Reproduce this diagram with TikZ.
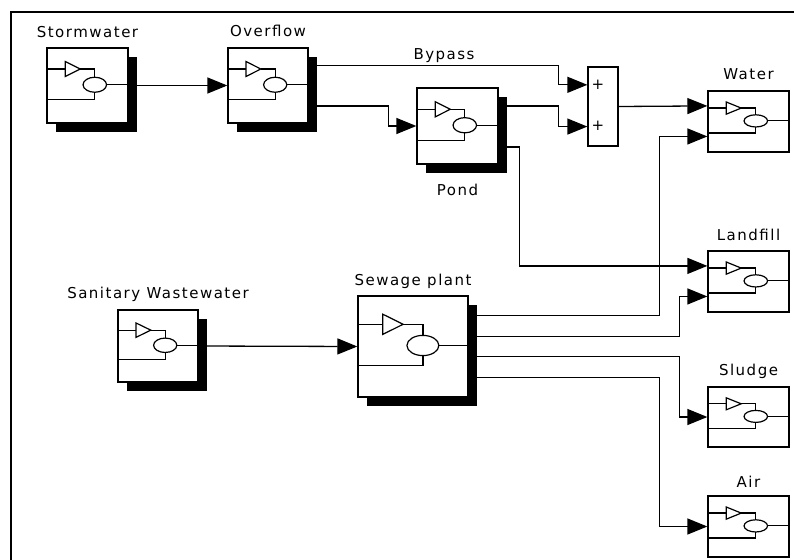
\documentclass[tikz,border=0pt]{standalone}
\usepackage{fontspec}
\setmainfont{DejaVu Sans}[LetterSpace=10]
\usetikzlibrary{arrows.meta,calc}
\pgfdeclarelayer{bg}
\pgfdeclarelayer{shade}
\pgfsetlayers{bg,shade,main}
\tikzset{
  blockbox/.style={draw, fill=white, rectangle, inner sep=0pt, line width=1.3pt},
  conn/.style={line width=1.3pt},
  arr/.style={conn, -{Triangle[length=20pt,width=16pt]}},
  lbl/.style={anchor=base, inner sep=0pt, font=\fontsize{15}{17}\selectfont},
  plus/.style={inner sep=0pt, font=\fontsize{15}{17}\selectfont},
  icon/.style={line width=1.2pt},
  frame/.style={line width=1.6pt}
}
% #1 name, #2 x1, #3 y1, #4 x2, #5 y2, #6 shadow (1/0), #7 draw icon (1/0)
\newcommand\blkdraw[7]{%
  \pgfmathsetmacro\blkW{#4-#2}\pgfmathsetmacro\blkH{#5-#3}%
  \pgfmathsetmacro\blkCX{(#2+#4)/2}\pgfmathsetmacro\blkCY{(#3+#5)/2}%
  \ifnum#6=1
    \begin{pgfonlayer}{shade}\fill[black] (#2+9,#3+9) rectangle (#4+9,#5+9);\end{pgfonlayer}%
  \fi
  \node[blockbox, minimum width=\blkW pt, minimum height=\blkH pt] (#1) at (\blkCX,\blkCY) {};%
  \ifnum#7=1
    \pgfmathsetmacro\blkYa{#3+0.28*\blkH}%
    \pgfmathsetmacro\blkYb{#3+0.49*\blkH}%
    \pgfmathsetmacro\blkYc{#3+0.69*\blkH}%
    \pgfmathsetmacro\blkXa{#2+0.225*\blkW}%
    \pgfmathsetmacro\blkXb{#2+0.41*\blkW}%
    \pgfmathsetmacro\blkXc{#2+0.59*\blkW}%
    \pgfmathsetmacro\blkRx{0.145*\blkW}%
    \pgfmathsetmacro\blkRy{0.1*\blkH}%
    \pgfmathsetmacro\blkT{0.1*\blkH}%
    \draw[icon] (#2,\blkYa) -- (\blkXa,\blkYa);
    \draw[icon] (\blkXa,\blkYa-\blkT) -- (\blkXb,\blkYa) -- (\blkXa,\blkYa+\blkT) -- cycle;
    \draw[icon] (\blkXb,\blkYa) -- (\blkXc,\blkYa) -- (\blkXc,\blkYb-\blkRy);
    \draw[icon] (\blkXc,\blkYb) ellipse [x radius=\blkRx pt, y radius=\blkRy pt];
    \draw[icon] (\blkXc+\blkRx,\blkYb) -- (#4,\blkYb);
    \draw[icon] (\blkXc,\blkYb+\blkRy) -- (\blkXc,\blkYc) -- (#2,\blkYc);
  \fi
}
\begin{document}
\begin{tikzpicture}[x=1pt,y=-1pt]
\useasboundingbox (0,0) rectangle (794,559);
\begin{pgfonlayer}{bg}
\fill[white] (0,0) rectangle (794,559);
\end{pgfonlayer}
\draw[frame] (11,570) -- (11,12) -- (805,12);

% blocks
\blkdraw{storm}{47}{48}{128}{123}{1}{1}
\blkdraw{overflow}{228}{48}{308}{123}{1}{1}
\blkdraw{pond}{417}{88}{498}{164}{1}{1}
\blkdraw{sum}{588}{67}{618}{146}{0}{0}
\blkdraw{water}{708}{91}{789}{152}{0}{1}
\blkdraw{landfill}{708}{251}{789}{312}{0}{1}
\blkdraw{sludge}{708}{387}{789}{447}{0}{1}
\blkdraw{air}{708}{496}{789}{557}{0}{1}
\blkdraw{sanitary}{118}{310}{198}{382}{1}{1}
\blkdraw{sewage}{358}{296}{468}{397}{1}{1}

% labels
\node[lbl] (stormlbl) at (87.5,38) {Stormwater};
\node[lbl] (overflowlbl) at (268,37) {Overflow};
\node[lbl] (bypasslbl) at (444,60) {Bypass};
\node[lbl] (pondlbl) at (457.5,195) {Pond};
\node[lbl] (waterlbl) at (748.5,80) {Water};
\node[lbl] (landfilllbl) at (748.5,240) {Landfill};
\node[lbl] (sludgelbl) at (748.5,375) {Sludge};
\node[lbl] (airlbl) at (748.5,487) {Air};
\node[lbl] (sewagelbl) at (413,285) {Sewage plant};
\node[lbl] (sanitarylbl) at (158,298) {Sanitary Wastewater};
\node[plus] (plusa) at (598,85) {+};
\node[plus] (plusb) at (598,126) {+};

% ports
\coordinate (ovo1) at ($(overflow.north east)!0.24!(overflow.south east)$);
\coordinate (ovo2) at ($(overflow.north east)!0.77!(overflow.south east)$);
\coordinate (pondo1) at ($(pond.north east)!0.24!(pond.south east)$);
\coordinate (pondo2) at ($(pond.north east)!0.77!(pond.south east)$);
\coordinate (sumi1) at ($(sum.north west)!0.23!(sum.south west)$);
\coordinate (sumi2) at ($(sum.north west)!0.75!(sum.south west)$);
\coordinate (wai1) at ($(water.north west)!0.25!(water.south west)$);
\coordinate (wai2) at ($(water.north west)!0.74!(water.south west)$);
\coordinate (lfi1) at ($(landfill.north west)!0.25!(landfill.south west)$);
\coordinate (lfi2) at ($(landfill.north west)!0.74!(landfill.south west)$);
\coordinate (sewo1) at ($(sewage.north east)!0.2!(sewage.south east)$);
\coordinate (sewo2) at ($(sewage.north east)!0.4!(sewage.south east)$);
\coordinate (sewo3) at ($(sewage.north east)!0.6!(sewage.south east)$);
\coordinate (sewo4) at ($(sewage.north east)!0.8!(sewage.south east)$);

\begin{pgfonlayer}{bg}
\draw[arr] (storm.east) -- (overflow.west);
\draw[arr] (ovo1) -- ++(250,0) |- (sumi1);
\draw[arr] (ovo2) -- ++(80,0) |- (pond.west);
\draw[arr] (pondo1) -- ++(60,0) |- (sumi2);
\draw[arr] (pondo2) -- ++(21,0) |- (lfi1);
\draw[arr] (sum.east) -- (wai1);
\draw[arr] (sanitary.east) -- (sewage.west);
\draw[arr] (sewo1) -- ++(191,0) |- (wai2);
\draw[arr] (sewo2) -- ++(211,0) |- (lfi2);
\draw[arr] (sewo3) -- ++(211,0) |- (sludge.west);
\draw[arr] (sewo4) -- ++(191,0) |- (air.west);
\end{pgfonlayer}
\end{tikzpicture}
\end{document}
